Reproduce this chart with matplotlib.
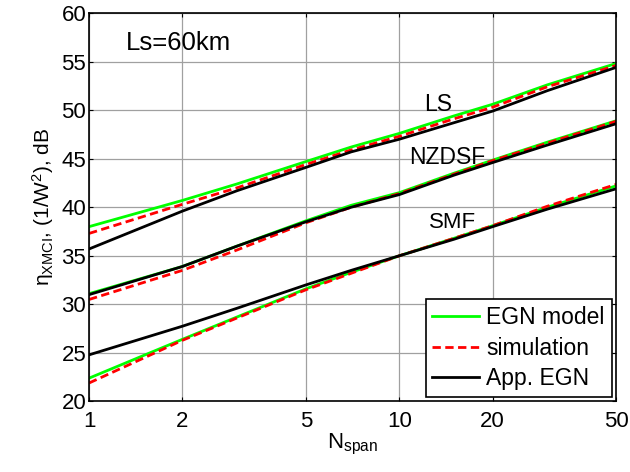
import matplotlib.pyplot as plt
import numpy as np

plt.rcParams['font.family'] = ['Liberation Sans', 'DejaVu Sans']
plt.rcParams['mathtext.fontset'] = 'custom'
plt.rcParams['mathtext.rm'] = 'Liberation Sans'
plt.rcParams['mathtext.it'] = 'Liberation Sans:italic'

# number of spans
n_span = [1, 2, 3, 5, 7, 10, 15, 20, 30, 50]

# LS fibre
ls_egn = [38.0, 40.7, 42.4, 44.7, 46.2, 47.6, 49.4, 50.6, 52.6, 54.8]
ls_sim = [37.3, 40.3, 42.0, 44.4, 45.9, 47.3, 49.1, 50.3, 52.4, 54.6]
ls_app = [35.7, 39.6, 41.7, 44.1, 45.7, 47.0, 48.7, 49.9, 52.0, 54.4]

# NZDSF fibre
nz_egn = [31.1, 33.9, 36.0, 38.6, 40.2, 41.5, 43.5, 44.85, 46.7, 48.9]
nz_sim = [30.5, 33.5, 35.6, 38.4, 40.0, 41.4, 43.4, 44.8, 46.6, 48.85]
nz_app = [31.0, 33.9, 36.0, 38.5, 40.0, 41.3, 43.3, 44.6, 46.4, 48.6]

# SMF fibre
smf_egn = [22.4, 26.4, 28.7, 31.6, 33.3, 35.0, 36.8, 38.1, 40.0, 42.2]
smf_sim = [21.9, 26.3, 28.6, 31.5, 33.2, 35.0, 36.8, 38.1, 40.1, 42.35]
smf_app = [24.8, 27.75, 29.6, 32.0, 33.5, 35.0, 36.7, 38.0, 39.8, 41.9]

xticks = [1, 2, 5, 10, 20, 50]

fig = plt.figure(figsize=(6.3, 4.72), dpi=100)
ax = fig.add_axes([0.1413, 0.1494, 0.8367, 0.8231])

for egn, sim, app in [(ls_egn, ls_sim, ls_app), (nz_egn, nz_sim, nz_app),
                      (smf_egn, smf_sim, smf_app)]:
    l1, = ax.plot(n_span, egn, color='#00ff00', lw=2)
    l2, = ax.plot(n_span, sim, color='#ff0000', lw=2, ls=(0, (3, 1.6)))
    l3, = ax.plot(n_span, app, color='black', lw=2)

ax.set_xscale('log')
ax.set_xlim(1, 50)
ax.set_ylim(20, 60)
ax.set_xticks(xticks)
ax.set_xticklabels([str(t) for t in xticks])
ax.minorticks_off()
ax.set_yticks(np.arange(20, 61, 5))
ax.grid(True, color='#a0a0a0', lw=0.9)
ax.tick_params(direction='in', length=3, labelsize=16, top=True, right=True)
ax.tick_params(axis='x', pad=7)
ax.tick_params(axis='y', pad=2)
for s in ax.spines.values():
    s.set_linewidth(1.2)

ax.set_xlabel(r'N$_{\rm span}$', fontsize=16, labelpad=0)
ax.set_ylabel(r'η$_{\rm XMCI}$, (1/W$^2$), dB', fontsize=15, labelpad=4)

ax.text(1.31, 56.9, 'Ls=60km', fontsize=18.5, va='center')
ax.text(13.3, 50.6, 'LS', fontsize=16.5, ha='center', va='center')
ax.text(14.3, 45.1, 'NZDSF', fontsize=16.5, ha='center', va='center')
ax.text(14.8, 38.4, 'SMF', fontsize=16, ha='center', va='center')

leg = ax.legend([l1, l2, l3], ['EGN model', 'simulation', 'App. EGN'],
                loc='lower right', fontsize=16.5, fancybox=False, framealpha=1,
                edgecolor='black', borderaxespad=0.2, handlelength=2.05,
                labelspacing=0.32, borderpad=0.3, handletextpad=0.3)
leg.get_frame().set_linewidth(1.2)

fig.savefig('out.png', dpi=100)
